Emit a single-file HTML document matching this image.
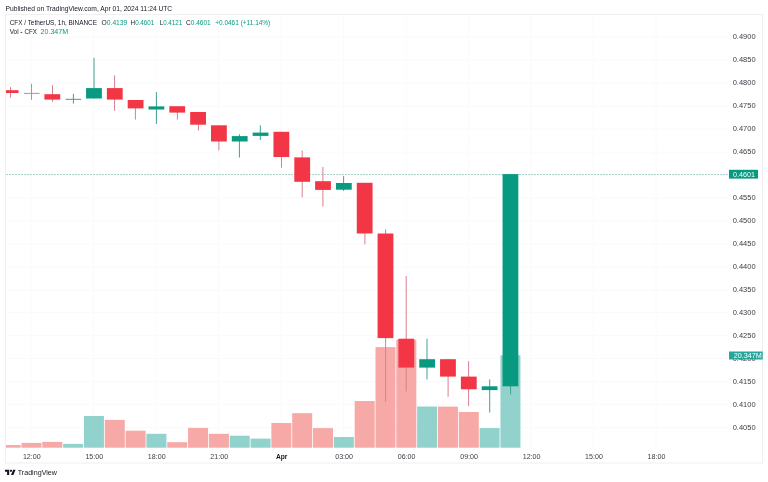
<!DOCTYPE html>
<html><head><meta charset="utf-8"><style>
html,body{margin:0;padding:0;background:#fff;width:768px;height:482px;overflow:hidden;position:relative;font-family:"Liberation Sans",sans-serif}
</style></head><body>
<svg width="768" height="482" viewBox="0 0 768 482" style="position:absolute;left:0;top:0;will-change:transform;font-family:'Liberation Sans',sans-serif">
<defs><clipPath id="pane"><rect x="6" y="15" width="722" height="433"/></clipPath></defs>
<rect x="5.5" y="14.5" width="757" height="448.5" fill="none" stroke="#EFEFEF" stroke-width="1"/>
<g stroke="#FAFAFA" stroke-width="1"><line x1="6" y1="37.0" x2="728" y2="37.0"/><line x1="6" y1="60.0" x2="728" y2="60.0"/><line x1="6" y1="83.0" x2="728" y2="83.0"/><line x1="6" y1="106.0" x2="728" y2="106.0"/><line x1="6" y1="129.0" x2="728" y2="129.0"/><line x1="6" y1="152.0" x2="728" y2="152.0"/><line x1="6" y1="175.0" x2="728" y2="175.0"/><line x1="6" y1="198.0" x2="728" y2="198.0"/><line x1="6" y1="221.0" x2="728" y2="221.0"/><line x1="6" y1="244.0" x2="728" y2="244.0"/><line x1="6" y1="267.0" x2="728" y2="267.0"/><line x1="6" y1="290.0" x2="728" y2="290.0"/><line x1="6" y1="312.5" x2="728" y2="312.5"/><line x1="6" y1="335.5" x2="728" y2="335.5"/><line x1="6" y1="358.5" x2="728" y2="358.5"/><line x1="6" y1="381.5" x2="728" y2="381.5"/><line x1="6" y1="404.5" x2="728" y2="404.5"/><line x1="6" y1="427.5" x2="728" y2="427.5"/><line x1="31.0" y1="15" x2="31.0" y2="448"/><line x1="93.5" y1="15" x2="93.5" y2="448"/><line x1="156.0" y1="15" x2="156.0" y2="448"/><line x1="218.5" y1="15" x2="218.5" y2="448"/><line x1="281.0" y1="15" x2="281.0" y2="448"/><line x1="343.5" y1="15" x2="343.5" y2="448"/><line x1="406.0" y1="15" x2="406.0" y2="448"/><line x1="468.5" y1="15" x2="468.5" y2="448"/><line x1="531.0" y1="15" x2="531.0" y2="448"/><line x1="593.5" y1="15" x2="593.5" y2="448"/><line x1="656.0" y1="15" x2="656.0" y2="448"/></g><g clip-path="url(#pane)"><rect x="0.66" y="445" width="20" height="2.70" fill="#F7A9A7"/><rect x="21.48" y="442.9" width="20" height="4.80" fill="#F7A9A7"/><rect x="42.31" y="441.9" width="20" height="5.80" fill="#F7A9A7"/><rect x="63.13" y="443.9" width="20" height="3.80" fill="#92D2CC"/><rect x="83.96" y="416" width="20" height="31.70" fill="#92D2CC"/><rect x="104.78" y="419.9" width="20" height="27.80" fill="#F7A9A7"/><rect x="125.60" y="430.7" width="20" height="17.00" fill="#F7A9A7"/><rect x="146.43" y="433.8" width="20" height="13.90" fill="#92D2CC"/><rect x="167.25" y="442.2" width="20" height="5.50" fill="#F7A9A7"/><rect x="188.08" y="427.9" width="20" height="19.80" fill="#F7A9A7"/><rect x="208.90" y="433.8" width="20" height="13.90" fill="#F7A9A7"/><rect x="229.72" y="435.7" width="20" height="12.00" fill="#92D2CC"/><rect x="250.55" y="438.6" width="20" height="9.10" fill="#92D2CC"/><rect x="271.37" y="423" width="20" height="24.70" fill="#F7A9A7"/><rect x="292.20" y="413.2" width="20" height="34.50" fill="#F7A9A7"/><rect x="313.02" y="428.1" width="20" height="19.60" fill="#F7A9A7"/><rect x="333.84" y="437" width="20" height="10.70" fill="#92D2CC"/><rect x="354.67" y="401" width="20" height="46.70" fill="#F7A9A7"/><rect x="375.49" y="347.1" width="20" height="100.60" fill="#F7A9A7"/><rect x="396.32" y="339.6" width="20" height="108.10" fill="#F7A9A7"/><rect x="417.14" y="406.5" width="20" height="41.20" fill="#92D2CC"/><rect x="437.96" y="406.6" width="20" height="41.10" fill="#F7A9A7"/><rect x="458.79" y="412" width="20" height="35.70" fill="#F7A9A7"/><rect x="479.61" y="428.1" width="20" height="19.60" fill="#92D2CC"/><rect x="500.44" y="355.2" width="20" height="92.50" fill="#92D2CC"/></g><line x1="6" y1="174.5" x2="728" y2="174.5" stroke="#ADD4CC" stroke-width="1" stroke-dasharray="2 1"/><g clip-path="url(#pane)"><rect x="10.00" y="87.1" width="1" height="10.60" fill="#D9808F"/><rect x="2.76" y="90.2" width="15.8" height="2.80" fill="#F23645"/><rect x="31.00" y="83.75" width="1" height="16.05" fill="#D9808F"/><rect x="23.98" y="92.9" width="15.6" height="1" fill="#D9808F"/><rect x="52.00" y="85.4" width="1" height="16.40" fill="#D9808F"/><rect x="44.41" y="94.2" width="15.8" height="5.40" fill="#F23645"/><rect x="72.90" y="93.9" width="1" height="9.70" fill="#3FA290"/><rect x="65.63" y="98.8" width="15.6" height="1" fill="#3FA290"/><rect x="93.50" y="57.9" width="1" height="40.60" fill="#3FA290"/><rect x="86.06" y="88.1" width="15.8" height="10.40" fill="#089981"/><rect x="114.10" y="75.3" width="1" height="35.60" fill="#D9808F"/><rect x="106.88" y="88.1" width="15.8" height="11.50" fill="#F23645"/><rect x="134.90" y="100.0" width="1" height="19.60" fill="#D9808F"/><rect x="127.70" y="100.0" width="15.8" height="8.40" fill="#F23645"/><rect x="155.90" y="92.1" width="1" height="31.80" fill="#3FA290"/><rect x="148.53" y="106.4" width="15.8" height="3.10" fill="#089981"/><rect x="176.90" y="106.2" width="1" height="13.40" fill="#D9808F"/><rect x="169.35" y="106.2" width="15.8" height="6.40" fill="#F23645"/><rect x="197.90" y="112.0" width="1" height="18.50" fill="#D9808F"/><rect x="190.18" y="112.0" width="15.8" height="12.70" fill="#F23645"/><rect x="218.40" y="125.3" width="1" height="25.10" fill="#D9808F"/><rect x="211.00" y="125.3" width="15.8" height="16.20" fill="#F23645"/><rect x="238.90" y="134.2" width="1" height="23.30" fill="#3FA290"/><rect x="231.82" y="136.1" width="15.8" height="5.40" fill="#089981"/><rect x="259.80" y="125.3" width="1" height="14.80" fill="#3FA290"/><rect x="252.65" y="132.6" width="15.8" height="3.30" fill="#089981"/><rect x="281.00" y="131.8" width="1" height="35.90" fill="#D9808F"/><rect x="273.47" y="131.8" width="15.8" height="25.20" fill="#F23645"/><rect x="301.70" y="150.5" width="1" height="46.90" fill="#D9808F"/><rect x="294.30" y="157.4" width="15.8" height="24.40" fill="#F23645"/><rect x="322.40" y="166.9" width="1" height="39.70" fill="#D9808F"/><rect x="315.12" y="181.2" width="15.8" height="8.70" fill="#F23645"/><rect x="343.10" y="176.1" width="1" height="14.80" fill="#3FA290"/><rect x="335.94" y="183.0" width="15.8" height="6.70" fill="#089981"/><rect x="364.40" y="182.8" width="1" height="61.50" fill="#D9808F"/><rect x="356.77" y="182.8" width="15.8" height="50.70" fill="#F23645"/><rect x="385.10" y="229.2" width="1" height="172.60" fill="#D9808F"/><rect x="377.59" y="233.5" width="15.8" height="104.60" fill="#F23645"/><rect x="405.70" y="275.9" width="1" height="115.60" fill="#D9808F"/><rect x="398.42" y="338.7" width="15.8" height="28.90" fill="#F23645"/><rect x="426.50" y="338.7" width="1" height="40.70" fill="#3FA290"/><rect x="419.24" y="359.2" width="15.8" height="8.40" fill="#089981"/><rect x="447.60" y="359.2" width="1" height="37.60" fill="#D9808F"/><rect x="440.06" y="359.2" width="15.8" height="17.40" fill="#F23645"/><rect x="468.10" y="361.2" width="1" height="44.90" fill="#D9808F"/><rect x="460.89" y="376.6" width="15.8" height="12.70" fill="#F23645"/><rect x="489.20" y="379.4" width="1" height="33.10" fill="#3FA290"/><rect x="481.71" y="386.3" width="15.8" height="3.80" fill="#089981"/><rect x="510.10" y="174.1" width="1" height="220.30" fill="#3FA290"/><rect x="502.54" y="174.1" width="15.8" height="212.20" fill="#089981"/></g><g><text x="732.7" y="39.3" font-size="7.0" fill="#3A3D45" textLength="22.9" lengthAdjust="spacingAndGlyphs">0.4900</text><text x="732.7" y="62.3" font-size="7.0" fill="#3A3D45" textLength="22.9" lengthAdjust="spacingAndGlyphs">0.4850</text><text x="732.7" y="85.2" font-size="7.0" fill="#3A3D45" textLength="22.9" lengthAdjust="spacingAndGlyphs">0.4800</text><text x="732.7" y="108.2" font-size="7.0" fill="#3A3D45" textLength="22.9" lengthAdjust="spacingAndGlyphs">0.4750</text><text x="732.7" y="131.1" font-size="7.0" fill="#3A3D45" textLength="22.9" lengthAdjust="spacingAndGlyphs">0.4700</text><text x="732.7" y="154.1" font-size="7.0" fill="#3A3D45" textLength="22.9" lengthAdjust="spacingAndGlyphs">0.4650</text><text x="732.7" y="200.0" font-size="7.0" fill="#3A3D45" textLength="22.9" lengthAdjust="spacingAndGlyphs">0.4550</text><text x="732.7" y="223.0" font-size="7.0" fill="#3A3D45" textLength="22.9" lengthAdjust="spacingAndGlyphs">0.4500</text><text x="732.7" y="245.9" font-size="7.0" fill="#3A3D45" textLength="22.9" lengthAdjust="spacingAndGlyphs">0.4450</text><text x="732.7" y="268.9" font-size="7.0" fill="#3A3D45" textLength="22.9" lengthAdjust="spacingAndGlyphs">0.4400</text><text x="732.7" y="291.9" font-size="7.0" fill="#3A3D45" textLength="22.9" lengthAdjust="spacingAndGlyphs">0.4350</text><text x="732.7" y="314.8" font-size="7.0" fill="#3A3D45" textLength="22.9" lengthAdjust="spacingAndGlyphs">0.4300</text><text x="732.7" y="337.8" font-size="7.0" fill="#3A3D45" textLength="22.9" lengthAdjust="spacingAndGlyphs">0.4250</text><text x="732.7" y="360.7" font-size="7.0" fill="#3A3D45" textLength="22.9" lengthAdjust="spacingAndGlyphs">0.4200</text><text x="732.7" y="383.7" font-size="7.0" fill="#3A3D45" textLength="22.9" lengthAdjust="spacingAndGlyphs">0.4150</text><text x="732.7" y="406.7" font-size="7.0" fill="#3A3D45" textLength="22.9" lengthAdjust="spacingAndGlyphs">0.4100</text><text x="732.7" y="429.6" font-size="7.0" fill="#3A3D45" textLength="22.9" lengthAdjust="spacingAndGlyphs">0.4050</text></g><rect x="729" y="169.8" width="29" height="8.8" fill="#089981"/><text x="733.1" y="176.9" font-size="7.0" fill="#fff" textLength="21.8" lengthAdjust="spacingAndGlyphs">0.4601</text><rect x="729" y="351.5" width="33.7" height="8" fill="#26A69A"/><text x="733.7" y="358.2" font-size="7.0" fill="#fff" textLength="28.1" lengthAdjust="spacingAndGlyphs">20.347M</text><g><text x="22.9" y="458.8" font-size="6.7" fill="#3A3D45" textLength="17.8" lengthAdjust="spacingAndGlyphs">12:00</text><text x="85.4" y="458.8" font-size="6.7" fill="#3A3D45" textLength="17.8" lengthAdjust="spacingAndGlyphs">15:00</text><text x="147.8" y="458.8" font-size="6.7" fill="#3A3D45" textLength="17.8" lengthAdjust="spacingAndGlyphs">18:00</text><text x="210.3" y="458.8" font-size="6.7" fill="#3A3D45" textLength="17.8" lengthAdjust="spacingAndGlyphs">21:00</text><text x="275.9" y="458.6" font-size="6.8" fill="#131722" textLength="11.5" lengthAdjust="spacingAndGlyphs" font-weight="bold">Apr</text><text x="335.2" y="458.8" font-size="6.7" fill="#3A3D45" textLength="17.8" lengthAdjust="spacingAndGlyphs">03:00</text><text x="397.7" y="458.8" font-size="6.7" fill="#3A3D45" textLength="17.8" lengthAdjust="spacingAndGlyphs">06:00</text><text x="460.2" y="458.8" font-size="6.7" fill="#3A3D45" textLength="17.8" lengthAdjust="spacingAndGlyphs">09:00</text><text x="522.7" y="458.8" font-size="6.7" fill="#3A3D45" textLength="17.8" lengthAdjust="spacingAndGlyphs">12:00</text><text x="585.1" y="458.8" font-size="6.7" fill="#3A3D45" textLength="17.8" lengthAdjust="spacingAndGlyphs">15:00</text><text x="647.6" y="458.8" font-size="6.7" fill="#3A3D45" textLength="17.8" lengthAdjust="spacingAndGlyphs">18:00</text></g><rect x="8" y="18" width="265" height="9.5" fill="#fff"/><rect x="8" y="27.5" width="62" height="9" fill="#fff"/><text x="9.7" y="25.1" font-size="6.4" fill="#131722" textLength="87.2" lengthAdjust="spacingAndGlyphs">CFX / TetherUS, 1h, BINANCE</text><text x="101.6" y="25.1" font-size="6.4" fill="#131722" textLength="25.7" lengthAdjust="spacingAndGlyphs">O<tspan fill="#089981">0.4139</tspan></text><text x="130.6" y="25.1" font-size="6.4" fill="#131722" textLength="23.7" lengthAdjust="spacingAndGlyphs">H<tspan fill="#089981">0.4601</tspan></text><text x="159.7" y="25.1" font-size="6.4" fill="#131722" textLength="22.4" lengthAdjust="spacingAndGlyphs">L<tspan fill="#089981">0.4121</tspan></text><text x="186.1" y="25.1" font-size="6.4" fill="#131722" textLength="24.6" lengthAdjust="spacingAndGlyphs">C<tspan fill="#089981">0.4601</tspan></text><text x="215.2" y="25.1" font-size="6.4" fill="#089981" textLength="55.1" lengthAdjust="spacingAndGlyphs">+0.0461 (+11.14%)</text><text x="9.7" y="34.2" font-size="6.4" fill="#131722" textLength="8.9" lengthAdjust="spacingAndGlyphs">Vol</text><rect x="20.6" y="31.9" width="1.6" height="1.1" fill="#131722" opacity="0.75"/><text x="24.6" y="34.2" font-size="6.4" fill="#131722" textLength="12.4" lengthAdjust="spacingAndGlyphs">CFX</text><text x="40.5" y="34.2" font-size="6.4" fill="#089981" textLength="27.7" lengthAdjust="spacingAndGlyphs">20.347M</text><text x="5.6" y="10.9" font-size="6.7" fill="#131722" textLength="166.6" lengthAdjust="spacingAndGlyphs">Published on TradingView.com, Apr 01, 2024 11:24 UTC</text><g fill="#131722" transform="translate(5.0 468.5) scale(0.298 0.29)"><path d="M14 22H7V11H0V4h14v18zM28 22h-8l7.5-18h8L28 22z"/><circle cx="20" cy="8" r="4"/></g><text x="17.7" y="475.0" font-size="7.1" fill="#131722" textLength="39.3" lengthAdjust="spacingAndGlyphs">TradingView</text>
</svg>
</body></html>
